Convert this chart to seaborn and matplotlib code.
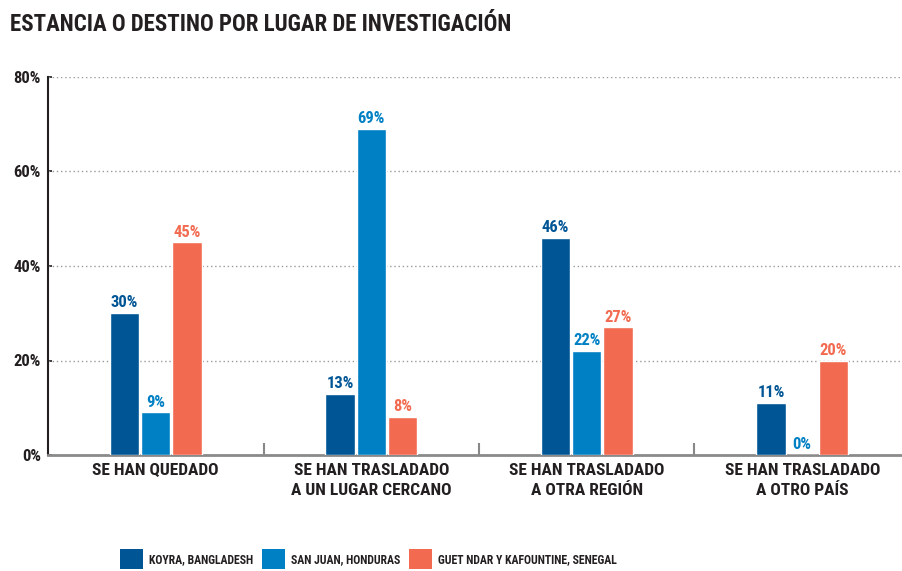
import matplotlib
matplotlib.use("Agg")
import matplotlib.pyplot as plt
from matplotlib import font_manager
from matplotlib.patches import Patch
import seaborn as sns
import pandas as pd

# ---- data ----
categories = ["SE HAN QUEDADO", "SE HAN TRASLADADO\nA UN LUGAR CERCANO",
              "SE HAN TRASLADADO\nA OTRA REGIÓN", "SE HAN TRASLADADO\nA OTRO PAÍS"]
series = ["KOYRA, BANGLADESH", "SAN JUAN, HONDURAS", "GUET NDAR Y KAFOUNTINE, SENEGAL"]
koyra = [30, 13, 46, 11]
san_juan = [9, 69, 22, 0]
guet_ndar = [45, 8, 27, 20]
yticks = [0, 20, 40, 60, 80]
ytick_labels = ["0%", "20%", "40%", "60%", "80%"]
title = "ESTANCIA O DESTINO POR LUGAR DE INVESTIGACIÓN"

colors = ["#005595", "#0080c4", "#f26b50"]
text_color = "#231f20"

# ---- font choice ----
names = {f.name for f in font_manager.fontManager.ttflist}
pref = ["Roboto Condensed", "Liberation Sans Narrow", "DejaVu Sans Condensed",
        "Open Sans Condensed", "Roboto", "DejaVu Sans"]
fam = next(n for n in pref if n in names)

sns.set_theme(style="white")
plt.rcParams["font.family"] = [fam, "DejaVu Sans"]
plt.rcParams["font.weight"] = "bold"

rows = []
for name, vals in zip(series, [koyra, san_juan, guet_ndar]):
    for c, v in zip(categories, vals):
        rows.append({"cat": c, "val": v, "loc": name})
df = pd.DataFrame(rows)

fig = plt.figure(figsize=(9.02, 5.71), dpi=100)
ax = fig.add_axes([48 / 902, 1 - 455 / 571, 862 / 902, (455 - 77) / 571])

sns.barplot(data=df, x="cat", y="val", hue="loc", order=categories,
            hue_order=series, palette=colors, saturation=1, width=0.435,
            gap=0.06, legend=False, ax=ax, zorder=3)

for cont, col in zip(ax.containers, colors):
    ax.bar_label(cont, labels=[f"{int(v)}%" for v in cont.datavalues],
                 color=col, fontsize=12, fontweight="bold", padding=2)

ax.set_xlim(-0.5, 3.5)
ax.set_ylim(0, 80)
ax.set_yticks(yticks)
ax.set_yticklabels(ytick_labels, fontsize=12, color=text_color, fontweight="bold")
ax.set_xticklabels(categories, fontsize=12.5, color=text_color, fontweight="bold",
                   linespacing=1.38)
ax.set_xlabel("")
ax.set_ylabel("")
ax.tick_params(axis="x", which="major", length=0, pad=6)
ax.tick_params(axis="y", which="major", left=True, direction="in", length=3,
               width=1.2, color=text_color, pad=5)
ax.set_xticks([0.5, 1.5, 2.5], minor=True)
ax.tick_params(axis="x", which="minor", bottom=True, direction="in", length=9,
               width=1.5, color="#888888")

for y in yticks[1:]:
    ax.axhline(y, color="#9a9a9a", lw=1, ls=(0, (1, 2)), zorder=1)

for s in ["top", "right"]:
    ax.spines[s].set_visible(False)
ax.spines["left"].set_color(text_color)
ax.spines["left"].set_linewidth(1.5)
ax.spines["bottom"].set_color("#8a8a8a")
ax.spines["bottom"].set_linewidth(2)

fig.text(10 / 902, 1 - 13 / 571, title, fontsize=16.5, fontweight="bold",
         color=text_color, va="top", ha="left")

handles = [Patch(facecolor=c, edgecolor="none") for c in colors]
fig.legend(handles, series, loc="center", bbox_to_anchor=(0.408, 1 - 559 / 571),
           ncol=3, frameon=False, handlelength=1.95, handleheight=2.2,
           handletextpad=0.5, columnspacing=0.75, labelcolor=text_color,
           prop={"family": [fam, "DejaVu Sans"], "weight": "bold", "size": 8.5})

fig.savefig("out.png", dpi=100)
